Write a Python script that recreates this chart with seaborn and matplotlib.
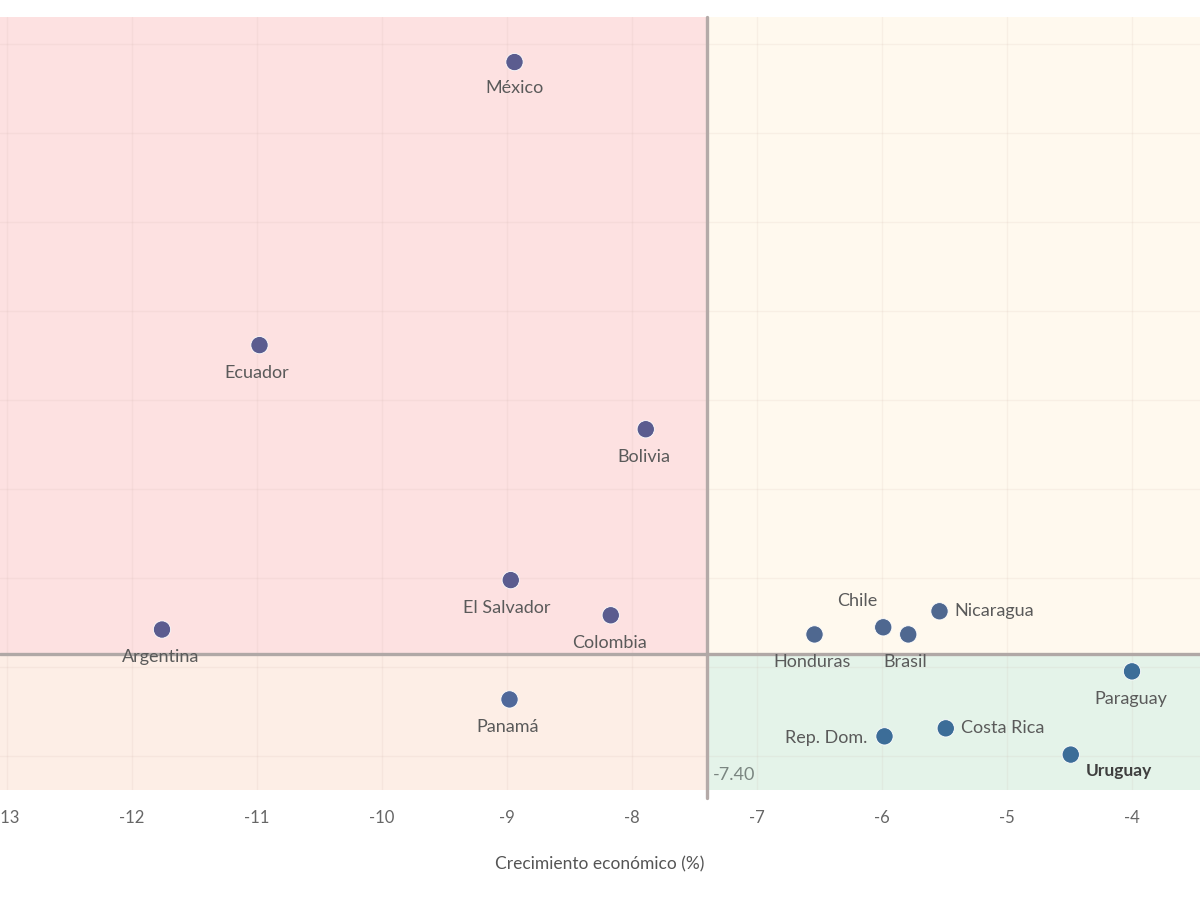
import numpy as np
import pandas as pd
import seaborn as sns
import matplotlib.pyplot as plt
from matplotlib.patches import Rectangle

# data (y axis is unlabelled in the reference)
paises = ["México", "Ecuador", "Bolivia", "El Salvador", "Colombia", "Argentina",
          "Panamá", "Honduras", "Chile", "Brasil", "Nicaragua", "Paraguay",
          "Costa Rica", "Rep. Dom.", "Uruguay"]
crecimiento = [-8.94, -10.98, -7.89, -8.97, -8.17, -11.76,
               -8.98, -6.54, -5.99, -5.79, -5.54, -4.00,
               -5.49, -5.98, -4.49]
eje_y = [176.0, 112.4, 93.5, 59.6, 51.7, 48.5,
         32.8, 47.4, 49.0, 47.4, 52.6, 39.1,
         26.3, 24.5, 20.4]
ref_x = -7.40
ref_y = 43.1
x_ticks = [-13, -12, -11, -10, -9, -8, -7, -6, -5, -4]

df = pd.DataFrame({"pais": paises, "x": crecimiento, "y": eje_y})
df["cuadrante"] = np.where(df["x"] < ref_x,
                           np.where(df["y"] > ref_y, "sup_izq", "inf_izq"),
                           np.where(df["y"] > ref_y, "sup_der", "inf_der"))

fondo = {"sup_izq": "#fde1e1", "sup_der": "#fff9ee",
         "inf_izq": "#fdeee6", "inf_der": "#e4f3e9"}
puntos = {"sup_izq": "#5b5c8f", "sup_der": "#4f6890",
          "inf_izq": "#50689a", "inf_der": "#3c6d98"}

sns.set_theme(style="white")
plt.rcParams['font.family'] = ['Lato', 'DejaVu Sans']

fig = plt.figure(figsize=(12, 9), dpi=100)
ax = fig.add_axes([0, 0.122, 1, 0.859])

xmin, xmax = -13.056, -3.456
ymin, ymax = 12.4, 186.1
ax.set_xlim(xmin, xmax)
ax.set_ylim(ymin, ymax)

# quadrant shading
ax.add_patch(Rectangle((xmin, ref_y), ref_x - xmin, ymax - ref_y, color=fondo["sup_izq"], zorder=0, lw=0))
ax.add_patch(Rectangle((ref_x, ref_y), xmax - ref_x, ymax - ref_y, color=fondo["sup_der"], zorder=0, lw=0))
ax.add_patch(Rectangle((xmin, ymin), ref_x - xmin, ref_y - ymin, color=fondo["inf_izq"], zorder=0, lw=0))
ax.add_patch(Rectangle((ref_x, ymin), xmax - ref_x, ref_y - ymin, color=fondo["inf_der"], zorder=0, lw=0))

# faint grid
for gx in x_ticks:
    ax.axvline(gx, color="#c9a9a0", alpha=0.12, lw=1, zorder=1)
for gy in range(20, 181, 20):
    ax.axhline(gy, color="#c9a9a0", alpha=0.12, lw=1, zorder=1)

ax.axvline(ref_x, ymin=-0.01, color="#b4aaa8", lw=2.4, zorder=2, clip_on=False)
ax.axhline(ref_y, color="#b0a8a6", lw=2.4, zorder=2)

sns.scatterplot(data=df, x="x", y="y", hue="cuadrante", palette=puntos, s=155,
                edgecolor="white", linewidth=0.6, legend=False, ax=ax, zorder=3)

# label placement (offset in points, ha)
pos = {
    "México": (0, -19, "center"), "Ecuador": (-2, -20, "center"),
    "Bolivia": (-1, -20, "center"), "El Salvador": (-3, -20, "center"),
    "Colombia": (-1, -20, "center"), "Argentina": (-1, -20, "center"),
    "Panamá": (-1, -20, "center"), "Honduras": (-2, -20, "center"),
    "Chile": (-19, 19, "center"), "Brasil": (-2, -20, "center"),
    "Nicaragua": (11, 0, "left"), "Paraguay": (-1, -20, "center"),
    "Costa Rica": (11, 0, "left"), "Rep. Dom.": (-12, -1, "right"),
    "Uruguay": (11, -12, "left"),
}
for _, r in df.iterrows():
    dx, dy, ha = pos[r["pais"]]
    bold = r["pais"] == "Uruguay"
    ax.annotate(r["pais"], (r["x"], r["y"]), xytext=(dx, dy), textcoords="offset points",
                ha=ha, va="center", fontsize=12.5 if bold else 13, color="#3f3f3f" if bold else "#5a5a5a",
                fontweight="bold" if bold else "normal", zorder=4)

ax.text(ref_x + 0.05, ymin + 3.5, "-7.40", fontsize=13, color="#7a8580", ha="left", va="center", zorder=4)

ax.set_xticks(x_ticks)
ax.set_xticklabels([str(t) for t in x_ticks], fontsize=12, color="#666666")
ax.set_yticks([])
ax.tick_params(axis="x", length=0, pad=14)
ax.set_xlabel("Crecimiento económico (%)", fontsize=12.5, color="#555555", labelpad=22)
ax.set_ylabel("")
for s in ax.spines.values():
    s.set_visible(False)

fig.savefig("out.png", dpi=100)
